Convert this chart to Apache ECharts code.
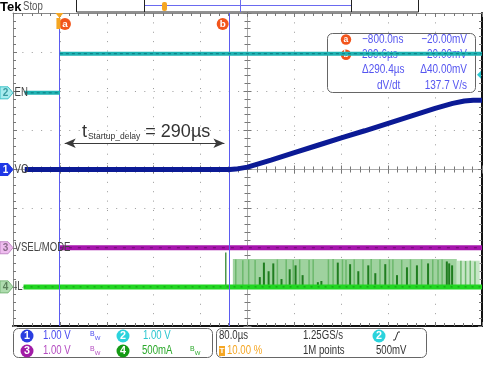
<!DOCTYPE html>
<html><head><meta charset="utf-8">
<script src="https://cdn.jsdelivr.net/npm/echarts@6/dist/echarts.min.js"></script>
<style>html,body{margin:0;padding:0;background:#fff}#c{width:500px;height:375px}</style>
</head><body><div id="c"></div>
<script>
// ---------- data (time in µs, level in divisions) ----------
const timeMin = -80, timeMax = 720, timeStep = 80;
const divMin = -4, divMax = 4, divStep = 1;

const enLowTime = [-60, 0];       const enLowLevel = [1.96, 1.96];
const enHighTime = [0, 720];      const enHighLevel = [2.96, 2.96];

const voTime  = [-60, 290, 300, 320, 360, 400, 440, 480, 520, 560, 600, 640, 670, 690, 705, 720];
const voLevel = [0, 0, 0.01, 0.06, 0.24, 0.43, 0.62, 0.81, 0.99, 1.18, 1.37, 1.56, 1.69, 1.75, 1.77, 1.77];

const vselTime = [0, 720];        const vselLevel = [-2, -2];
const ilTime = [-62, 720];        const ilLevel = [-3, -3];

// switching bursts of IL: [start, end, top]
const ilBandStart = [295, 677];
const ilBandEnd   = [677, 716];
const ilBandTop   = [-2.29, -2.33];
const ilBandColor = ['#9fd29f', '#c6e6c6'];

const ilStripeTime = [300, 312, 322, 333, 371, 386, 398, 409, 425, 432, 458, 466, 482, 488, 502, 517, 531, 546, 562, 568, 583, 598, 617, 636, 645, 652, 684, 692, 700, 708];
const ilStripeTop  = [-2.3, -2.32, -2.3, -2.31, -2.3, -2.3, -2.31, -2.3, -2.31, -2.3, -2.3, -2.29, -2.3, -2.31, -2.3, -2.3, -2.29, -2.3, -2.3, -2.3, -2.31, -2.3, -2.3, -2.3, -2.31, -2.3, -2.33, -2.34, -2.33, -2.35];

const ilSpikeTime = [283, 341, 348, 356, 364, 378, 392, 402, 414, 440, 446, 474, 495, 509, 526, 538, 555, 575, 592, 609, 628, 660, 664, 669];
const ilSpikeTop  = [-2.12, -2.75, -2.38, -2.6, -2.4, -2.8, -2.55, -2.45, -2.7, -2.88, -2.85, -2.38, -2.42, -2.6, -2.45, -2.65, -2.42, -2.7, -2.5, -2.45, -2.4, -2.35, -2.4, -2.45];

const cursorTime = [-0.8, 289.6];
const cursorNames = ['a', 'b'];
const delayLevel = 0.67;
const trigLevel = 2.42;

const chNames = ['EN', 'VO', 'VSEL/MODE', 'IL'];
const chNums = ['2', '1', '3', '4'];
const chOffsets = [1.96, 0, -2, -3];

const readoutRows = [
  ['a', '\u2212800.0ns', '\u221220.00mV'],
  ['b', '289.6\u00b5s', '20.00mV'],
  ['', '\u0394290.4\u00b5s', '\u039440.00mV'],
  ['', 'dV/dt', '137.7 V/s']
];

// ---------- chart ----------
const SANS = '"Liberation Sans", Arial, sans-serif';
const NX = 0.8; // horizontal squeeze for the scope's narrow font
const chart = echarts.init(document.getElementById('c'));
const pair = (ts, vs) => ts.map((t, i) => [t, vs[i]]);

function xAx(extra) {
  return Object.assign({
    type: 'value', min: timeMin, max: timeMax, interval: timeStep,
    axisLabel: { show: false }, splitLine: { show: false },
    axisTick: { show: true, inside: true, length: 4, lineStyle: { color: '#777' } },
    minorTick: { show: true, splitNumber: 5, length: 3, lineStyle: { color: '#777' } }
  }, extra);
}
function yAx(extra) {
  return Object.assign({
    type: 'value', min: divMin, max: divMax, interval: divStep,
    axisLabel: { show: false }, splitLine: { show: false },
    axisTick: { show: true, inside: true, length: 4, lineStyle: { color: '#777' } },
    minorTick: { show: true, splitNumber: 5, length: 3, lineStyle: { color: '#777' } }
  }, extra);
}

const option = {
  animation: false,
  backgroundColor: '#fff',
  grid: { left: 13, top: 13, width: 469, height: 313, show: false },
  xAxis: [
    xAx({ position: 'bottom', axisLine: { onZero: false, lineStyle: { color: '#111', width: 2 } },
      splitLine: { show: true, lineStyle: { color: '#9a9a9a', width: 1, type: [1, 8.38] } } }),
    xAx({ position: 'top', axisLine: { onZero: false, lineStyle: { color: '#888', width: 1 } } }),
    xAx({ position: 'bottom', axisLine: { onZero: true, lineStyle: { color: '#aaa', width: 1 } } }),
    xAx({ position: 'bottom', axisLine: { onZero: true, lineStyle: { color: '#aaa', width: 1 } },
      axisTick: { show: true, inside: false, length: 4, lineStyle: { color: '#777' } } })
  ],
  yAxis: [
    yAx({ position: 'left', axisLine: { show: true, onZero: false, lineStyle: { color: '#888', width: 1 } },
      splitLine: { show: true, lineStyle: { color: '#9a9a9a', width: 1, type: [1, 8.38] } } }),
    yAx({ position: 'right', axisLine: { show: true, onZero: false, lineStyle: { color: '#111', width: 2 } } }),
    yAx({ position: 'left', offset: -234.5, axisLine: { show: true, onZero: false, lineStyle: { color: '#aaa', width: 1 } } }),
    yAx({ position: 'left', offset: -234.5, axisLine: { show: true, onZero: false, lineStyle: { color: '#aaa', width: 1 } },
      axisTick: { show: true, inside: false, length: 4, lineStyle: { color: '#777' } } })
  ],
  series: [
    { type: 'line', data: [], z: 1, silent: true,
      markLine: { silent: true, symbol: 'none', label: { show: false },
        lineStyle: { color: '#5b5bf0', width: 1, type: 'solid' },
        data: cursorTime.map(t => ({ xAxis: t })) } },
    { type: 'line', data: [], z: 3, silent: true,
      markLine: { silent: true, symbol: ['arrow', 'arrow'], symbolSize: [7, 11], label: { show: false },
        lineStyle: { color: '#3a3a3a', width: 1.2, type: 'solid' },
        data: [[{ coord: [cursorTime[0] + 9, delayLevel] }, { coord: [cursorTime[1] - 9, delayLevel] }]] } },
    { type: 'custom', z: 2, silent: true,
      data: ilBandStart.map((s, i) => [s, ilBandEnd[i], ilLevel[0], ilBandTop[i], i]),
      renderItem: (p, api) => {
        const a = api.coord([api.value(0), api.value(2)]);
        const b = api.coord([api.value(1), api.value(3)]);
        return { type: 'rect', shape: { x: a[0], y: b[1], width: b[0] - a[0], height: a[1] - b[1] },
          style: { fill: ilBandColor[api.value(4)] } };
      } },
    { type: 'custom', z: 2, silent: true,
      data: ilStripeTime.map((t, i) => [t, ilLevel[0], ilStripeTop[i]]),
      renderItem: (p, api) => {
        const a = api.coord([api.value(0), api.value(1)]);
        const b = api.coord([api.value(0), api.value(2)]);
        return { type: 'line', shape: { x1: a[0], y1: a[1], x2: b[0], y2: b[1] },
          style: { stroke: '#6cb86c', lineWidth: 1.5 } };
      } },
    { type: 'custom', z: 2, silent: true,
      data: ilSpikeTime.map((t, i) => [t, ilLevel[0], ilSpikeTop[i]]),
      renderItem: (p, api) => {
        const a = api.coord([api.value(0), api.value(1)]);
        const b = api.coord([api.value(0), api.value(2)]);
        return { type: 'line', shape: { x1: a[0], y1: a[1], x2: b[0], y2: b[1] },
          style: { stroke: '#1f7d1f', lineWidth: p.dataIndex === 0 ? 1.2 : 2 } };
      } },
    { type: 'line', data: pair(ilTime, ilLevel), symbol: 'none', z: 4,
      lineStyle: { color: '#22d622', width: 5 } },
    { type: 'line', data: pair(ilTime, ilLevel), symbol: 'none', z: 4,
      lineStyle: { color: '#129a12', width: 1, type: [2, 5] } },
    { type: 'line', data: pair(vselTime, vselLevel), symbol: 'none', z: 4,
      lineStyle: { color: '#a615ad', width: 5 } },
    { type: 'line', data: pair(vselTime, vselLevel), symbol: 'none', z: 4,
      lineStyle: { color: '#6e0a72', width: 1, type: [3, 6] } },
    { type: 'line', data: pair(voTime, voLevel), symbol: 'none', z: 5,
      lineStyle: { color: '#0b1a95', width: 5 } },
    { type: 'line', data: pair(enLowTime, enLowLevel).concat([['-', '-']], pair(enHighTime, enHighLevel)),
      symbol: 'none', z: 6, connectNulls: false,
      lineStyle: { color: '#1fb3b3', width: 4 } },
    { type: 'line', data: pair(enLowTime, enLowLevel).concat([['-', '-']], pair(enHighTime, enHighLevel)),
      symbol: 'none', z: 6, connectNulls: false,
      lineStyle: { color: '#0c7a80', width: 1, type: [3, 3] } }
  ]
};
chart.setOption(option);

// ---------- decorations ----------
const px = (t, v) => chart.convertToPixel({ xAxisIndex: 0, yAxisIndex: 0 }, [t, v]);
const g = [];
const txt = (x, y, s, o, z) => g.push({ type: 'text', x, y, z: z == null ? 20 : z, scaleX: NX,
  style: Object.assign({ text: s, fontFamily: SANS, fontSize: 12, fill: '#333', verticalAlign: 'middle' }, o || {}) });
const circ = (x, y, r, fill, s, tc, z) => {
  g.push({ type: 'circle', shape: { cx: x, cy: y, r }, z: z == null ? 20 : z, style: { fill } });
  g.push({ type: 'text', x, y, z: (z == null ? 20 : z) + 1, style: { text: s, fontFamily: SANS, fontWeight: 'bold',
    fontSize: r * 1.65, fill: tc, align: 'center', verticalAlign: 'middle' } });
};

// top bar
g.push({ type: 'text', x: 0, y: 7, z: 20, style: { text: 'Tek', fontFamily: SANS, fontWeight: 'bold', fontSize: 13, fill: '#000', verticalAlign: 'middle' } });
txt(23, 7, 'Stop', { fontSize: 12, fill: '#555' });
g.push({ type: 'rect', shape: { x: 76.5, y: -1, width: 342, height: 13 }, z: 20, style: { fill: 'none', stroke: '#222', lineWidth: 1 } });
g.push({ type: 'line', shape: { x1: 144.5, y1: 0, x2: 144.5, y2: 12 }, z: 20, style: { stroke: '#222', lineWidth: 1 } });
g.push({ type: 'line', shape: { x1: 351.5, y1: 0, x2: 351.5, y2: 12 }, z: 20, style: { stroke: '#222', lineWidth: 1 } });
g.push({ type: 'line', shape: { x1: 145, y1: 5.5, x2: 351, y2: 5.5 }, z: 20, style: { stroke: '#6a6af0', lineWidth: 1 } });
g.push({ type: 'line', shape: { x1: 240.5, y1: 0, x2: 240.5, y2: 12 }, z: 20, style: { stroke: '#6a6af0', lineWidth: 1 } });
g.push({ type: 'rect', shape: { x: 162, y: 2, width: 5, height: 9, r: 2 }, z: 21, style: { fill: '#f5a623' } });

// trigger position marker & cursor badges
const ca = px(cursorTime[0], 0), cb = px(cursorTime[1], 0);
g.push({ type: 'polygon', shape: { points: [[ca[0] - 4, 13], [ca[0] + 4, 13], [ca[0], 18]] }, z: 21, style: { fill: '#f5a623' } });
g.push({ type: 'rect', shape: { x: ca[0] - 3, y: 18, width: 4, height: 11 }, z: 21, style: { fill: '#f5a623' } });
circ(ca[0] + 5.5, 24, 6, '#f2551c', cursorNames[0], '#fff');
circ(cb[0] - 7, 24, 6, '#f2551c', cursorNames[1], '#fff');

// trigger level marker (right)
const tl = px(timeMax, trigLevel);
g.push({ type: 'polygon', shape: { points: [[tl[0] - 5, tl[1]], [tl[0] - 1, tl[1] - 4], [tl[0] - 1, tl[1] + 4]] }, z: 21, style: { fill: '#2cc9d2' } });

// channel badges and labels
const badge = [
  { fill: '#a8ecee', stroke: '#3cc2c8', tc: '#3a9aa0' },
  { fill: '#2038e6', stroke: '#2038e6', tc: '#fff' },
  { fill: '#efbdef', stroke: '#c48ac8', tc: '#8a6a8a' },
  { fill: '#afdcaf', stroke: '#7ab87a', tc: '#5a805a' }
];
chNames.forEach((n, i) => {
  const y = px(timeMin, chOffsets[i])[1];
  g.push({ type: 'polygon', z: 22, shape: { points: [[0, y - 6], [8, y - 6], [13, y], [8, y + 6], [0, y + 6]] },
    style: { fill: badge[i].fill, stroke: badge[i].stroke, lineWidth: 1 } });
  g.push({ type: 'text', x: 5.5, y: y + 0.5, z: 23, style: { text: chNums[i], fontFamily: SANS,
    fontWeight: 'bold', fontSize: 10, fill: badge[i].tc, align: 'center', verticalAlign: 'middle' } });
  txt(14.5, y, n, { fontSize: 12, fill: '#444' });
});

// delay annotation
const dl = px(37.5, delayLevel + 0.33);
g.push({ type: 'text', x: dl[0], y: dl[1], z: 20, style: {
  text: '{t|t}{s|Startup_delay}{t| = 290\u00b5s}',
  verticalAlign: 'middle',
  rich: {
    t: { fontFamily: SANS, fontSize: 18, fill: '#333', lineHeight: 22, verticalAlign: 'bottom' },
    s: { fontFamily: SANS, fontSize: 8.5, fill: '#333', lineHeight: 9, verticalAlign: 'bottom', padding: [0, 0, 0, 1] }
  } } });

// cursor readout box (under the EN trace)
g.push({ type: 'rect', z: 1, shape: { x: 327.5, y: 33.5, width: 148, height: 59, r: 5 },
  style: { fill: '#fff', stroke: '#666', lineWidth: 1 } });
readoutRows.forEach((r, i) => {
  const y = 39.5 + i * 15.2;
  if (r[0]) circ(346, y, 5.2, '#f2551c', r[0], '#fff', 1);
  txt(i === 3 ? 377 : 362, y, r[1], { fontSize: 12.5, fill: '#5656f0' }, 1);
  txt(467, y, r[2], { fontSize: 12.5, fill: '#5656f0', align: 'right' }, 1);
});

// bottom info panels
g.push({ type: 'rect', z: 20, shape: { x: 13.5, y: 328.5, width: 199, height: 29, r: 5 }, style: { fill: '#fff', stroke: '#666', lineWidth: 1 } });
g.push({ type: 'rect', z: 20, shape: { x: 216.5, y: 328.5, width: 210, height: 29, r: 5 }, style: { fill: '#fff', stroke: '#666', lineWidth: 1 } });
const row1 = 336, row2 = 351;
const bw = (x, y, c) => g.push({ type: 'text', x, y, z: 21, style: { text: '{b|B}{w|W}', verticalAlign: 'middle',
  rich: { b: { fontSize: 7, fill: c, fontFamily: SANS, verticalAlign: 'top', lineHeight: 10 }, w: { fontSize: 6, fill: c, fontFamily: SANS, verticalAlign: 'bottom', lineHeight: 10 } } } });
circ(27, row1, 6.5, '#2a3ee0', '1', '#fff');
txt(43, row1, '1.00 V', { fill: '#4b4bf0' });
bw(90, row1, '#4b4bf0');
circ(123, row1, 6.5, '#2bd3dc', '2', '#fff');
txt(143, row1, '1.00 V', { fill: '#2cc6d0' });
circ(27, row2, 6.5, '#a11ca6', '3', '#fff');
txt(43, row2, '1.00 V', { fill: '#b44cc0' });
bw(90, row2, '#b44cc0');
circ(123, row2, 6.5, '#149a14', '4', '#fff');
txt(142, row2, '500mA', { fill: '#2aa82a' });
bw(190, row2, '#2aa82a');

txt(219, row1, '80.0\u00b5s', { fill: '#333' });
g.push({ type: 'rect', z: 21, shape: { x: 219, y: row2 - 5, width: 6, height: 10 }, style: { fill: '#f5a623' } });
g.push({ type: 'text', z: 22, x: 222, y: row2, style: { text: 'T', fontSize: 8, fontWeight: 'bold', fill: '#fff', align: 'center', verticalAlign: 'middle', fontFamily: SANS } });
txt(227, row2, '10.00 %', { fill: '#f5a623' });
txt(303, row1, '1.25GS/s', { fill: '#333' });
txt(303, row2, '1M points', { fill: '#333' });
circ(379, row1, 6.5, '#2bd3dc', '2', '#fff');
g.push({ type: 'polyline', z: 21, shape: { points: [[393, row1 + 4], [395, row1 + 4], [398, row1 - 4], [400, row1 - 4]] }, style: { stroke: '#333', lineWidth: 1, fill: 'none' } });
txt(376, row2, '500mV', { fill: '#333' });

chart.setOption({ graphic: { elements: g } });
</script>
</body></html>
